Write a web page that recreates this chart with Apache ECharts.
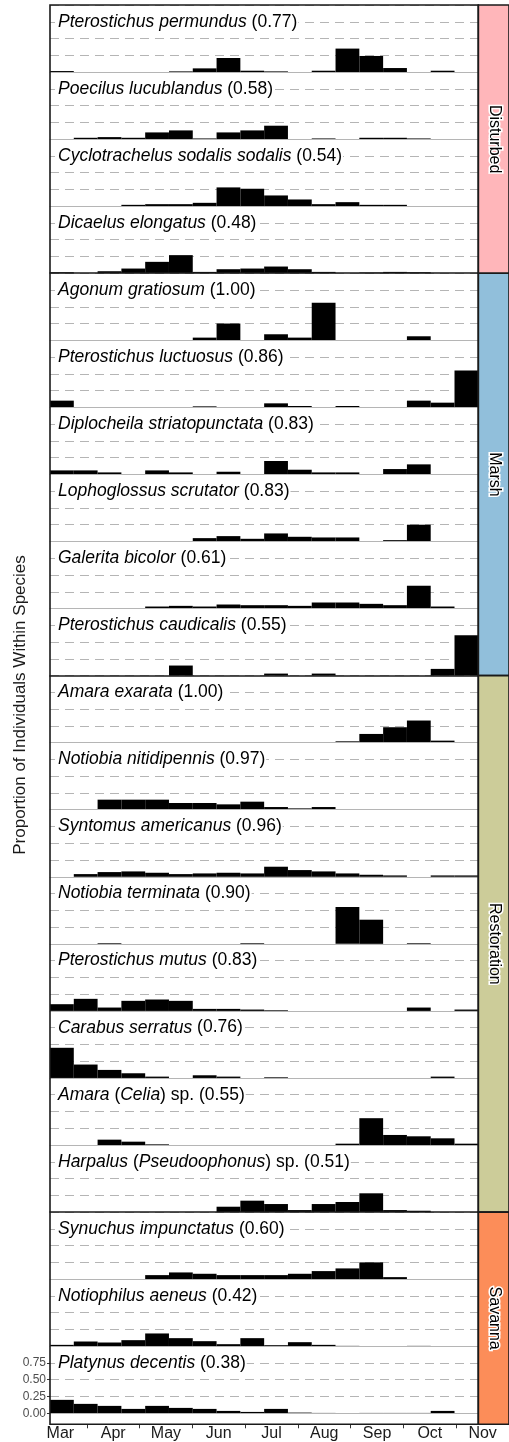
<!DOCTYPE html>
<html>
<head>
<meta charset="utf-8">
<script src="https://cdn.jsdelivr.net/npm/echarts@6/dist/echarts.min.js"></script>
<style>
  html, body { margin: 0; padding: 0; background: #fff; }
  #chart { width: 509px; height: 1442px; }
</style>
</head>
<body>
<div id="chart"></div>
<script>
// Month labels along the bottom and the 18 half-month sampling bins
const months = ['Mar', 'Apr', 'May', 'Jun', 'Jul', 'Aug', 'Sep', 'Oct', 'Nov'];
const bins = ['Mar a', 'Mar b', 'Apr a', 'Apr b', 'May a', 'May b', 'Jun a', 'Jun b', 'Jul a',
              'Jul b', 'Aug a', 'Aug b', 'Sep a', 'Sep b', 'Oct a', 'Oct b', 'Nov a', 'Nov b'];
const yTickValues = [0, 0.25, 0.5, 0.75];

// Habitat groups (strip labels) and how many species fall in each
const habitats = ['Disturbed', 'Marsh', 'Restoration', 'Savanna'];
const habitatCounts = [4, 6, 8, 3];

// Species names (rich markup: {i|...} is italic) and indicator values
const speciesNames = [
  '{i|Pterostichus permundus}', '{i|Poecilus lucublandus}', '{i|Cyclotrachelus sodalis sodalis}', '{i|Dicaelus elongatus}',
  '{i|Agonum gratiosum}', '{i|Pterostichus luctuosus}', '{i|Diplocheila striatopunctata}', '{i|Lophoglossus scrutator}',
  '{i|Galerita bicolor}', '{i|Pterostichus caudicalis}',
  '{i|Amara exarata}', '{i|Notiobia nitidipennis}', '{i|Syntomus americanus}', '{i|Notiobia terminata}',
  '{i|Pterostichus mutus}', '{i|Carabus serratus}', '{i|Amara} ({i|Celia}) sp.', '{i|Harpalus} ({i|Pseudoophonus}) sp.',
  '{i|Synuchus impunctatus}', '{i|Notiophilus aeneus}', '{i|Platynus decentis}'
];
const indicatorValues = ['0.77', '0.58', '0.54', '0.48', '1.00', '0.86', '0.83', '0.83', '0.61', '0.55',
                         '1.00', '0.97', '0.96', '0.90', '0.83', '0.76', '0.55', '0.51', '0.60', '0.42', '0.38'];

// Proportion of each species' individuals caught in each half-month bin
const permundus       = [0.015, 0, 0, 0, 0, 0.01, 0.055, 0.21, 0.02, 0.01, 0, 0.02, 0.35, 0.24, 0.06, 0, 0.02, 0];
const lucublandus     = [0, 0.02, 0.03, 0.02, 0.1, 0.13, 0.01, 0.1, 0.13, 0.2, 0, 0.01, 0, 0.02, 0.02, 0.01, 0, 0];
const sodalis         = [0, 0, 0, 0.02, 0.03, 0.03, 0.05, 0.28, 0.26, 0.16, 0.1, 0.03, 0.06, 0.02, 0.02, 0, 0, 0];
const elongatus       = [0.015, 0, 0.03, 0.07, 0.17, 0.27, 0.02, 0.06, 0.07, 0.1, 0.06, 0.02, 0, 0.01, 0.02, 0.015, 0, 0];
const gratiosum       = [0, 0, 0, 0, 0, 0, 0.04, 0.25, 0, 0.09, 0.04, 0.56, 0, 0, 0, 0.06, 0, 0];
const luctuosus       = [0.1, 0, 0, 0, 0, 0, 0.015, 0, 0, 0.06, 0.02, 0, 0.02, 0, 0, 0.1, 0.07, 0.55];
const striatopunctata = [0.06, 0.06, 0.03, 0, 0.06, 0.03, 0, 0.04, 0, 0.2, 0.07, 0.03, 0.03, 0, 0.08, 0.15, 0, 0];
const scrutator       = [0, 0, 0, 0, 0, 0, 0.05, 0.08, 0.04, 0.12, 0.07, 0.06, 0.06, 0, 0.02, 0.25, 0, 0];
const bicolor         = [0, 0, 0, 0, 0.03, 0.04, 0.03, 0.06, 0.05, 0.05, 0.04, 0.09, 0.09, 0.07, 0.05, 0.34, 0.03, 0];
const caudicalis      = [0, 0, 0, 0, 0, 0.15, 0, 0, 0, 0.03, 0, 0.03, 0, 0, 0, 0, 0.1, 0.6];
const exarata         = [0, 0, 0, 0, 0, 0, 0, 0, 0, 0, 0, 0, 0.02, 0.13, 0.23, 0.33, 0.03, 0];
const nitidipennis    = [0, 0, 0.15, 0.15, 0.15, 0.1, 0.1, 0.08, 0.12, 0.04, 0.02, 0.04, 0, 0, 0, 0, 0, 0];
const americanus      = [0, 0.04, 0.07, 0.08, 0.06, 0.04, 0.05, 0.06, 0.05, 0.15, 0.1, 0.08, 0.05, 0.03, 0.02, 0, 0.02, 0.02];
const terminata       = [0, 0, 0.01, 0, 0, 0, 0, 0, 0.01, 0, 0, 0, 0.55, 0.36, 0, 0.01, 0, 0];
const mutus           = [0.1, 0.18, 0.05, 0.15, 0.17, 0.15, 0.03, 0.03, 0.02, 0.01, 0, 0, 0, 0, 0, 0.05, 0, 0.02];
const serratus        = [0.45, 0.2, 0.12, 0.07, 0.02, 0, 0.04, 0.02, 0, 0.01, 0, 0, 0, 0, 0, 0, 0.02, 0];
const celia           = [0, 0, 0.08, 0.05, 0.01, 0, 0, 0, 0, 0, 0, 0, 0.02, 0.4, 0.15, 0.13, 0.1, 0.02];
const pseudoophonus   = [0, 0, 0, 0, 0, 0, 0, 0.08, 0.17, 0.12, 0.03, 0.12, 0.15, 0.28, 0.03, 0.02, 0, 0];
const impunctatus     = [0, 0, 0, 0, 0.06, 0.1, 0.08, 0.06, 0.06, 0.06, 0.08, 0.12, 0.16, 0.25, 0.03, 0, 0, 0];
const aeneus          = [0.02, 0.07, 0.055, 0.09, 0.19, 0.12, 0.075, 0.03, 0.12, 0.015, 0.06, 0.02, 0.005, 0, 0, 0.005, 0, 0];
const decentis        = [0.2, 0.14, 0.11, 0.065, 0.11, 0.08, 0.065, 0.035, 0.02, 0.065, 0.01, 0.005, 0, 0.005, 0.005, 0.005, 0.035, 0];

const speciesData = [permundus, lucublandus, sodalis, elongatus,
  gratiosum, luctuosus, striatopunctata, scrutator, bicolor, caudicalis,
  exarata, nitidipennis, americanus, terminata, mutus, serratus, celia, pseudoophonus,
  impunctatus, aeneus, decentis];

// ---- layout & style ----
const FONT = 'Liberation Sans, Arial, Helvetica, sans-serif';
const LABEL_SIZE = 17.5;
const PLOT_L = 50, PLOT_R = 478.3, PLOT_T = 5, PANEL_H = 67.06, FRAME_B = 1424.3;
const STRIP_R = 510;
const habitatColors = ['#FFB6BA', '#91BFDB', '#CCCC99', '#FC8D59'];
const GRID_GRAY = '#b5b5b5';

const grids = [], xAxes = [], yAxes = [], series = [], graphics = [];
const nPanels = speciesData.length;

// index of the last panel in each habitat group
const groupEnds = [];
habitatCounts.reduce((acc, n) => { groupEnds.push(acc + n - 1); return acc + n; }, 0);

speciesData.forEach((vals, i) => {
  const top = PLOT_T + i * PANEL_H;
  const isLast = i === nPanels - 1;
  const groupEnd = groupEnds.includes(i) && !isLast;
  grids.push({ left: PLOT_L, top: top, width: PLOT_R - PLOT_L, height: PANEL_H });
  xAxes.push({
    type: 'category', gridIndex: i, data: bins, boundaryGap: true, z: 4,
    axisLine: { show: true, lineStyle: groupEnd ? { color: '#1a1a1a', width: 1.6 } : { color: GRID_GRAY, width: 1 } },
    axisTick: { show: false }, axisLabel: { show: false }, splitLine: { show: false }
  });
  yAxes.push({
    type: 'value', gridIndex: i, min: 0, max: 1, interval: 0.25,
    axisLine: { show: false },
    axisTick: isLast ? { show: true, customValues: yTickValues, length: 3, lineStyle: { color: '#333' } } : { show: false },
    axisLabel: isLast ? {
      show: true, customValues: yTickValues, fontSize: 12, fontFamily: FONT, color: '#4d4d4d', margin: 4,
      formatter: v => v.toFixed(2)
    } : { show: false },
    splitLine: { show: true, lineStyle: { color: GRID_GRAY, width: 1, type: [9, 6] } }
  });
  series.push({
    type: 'bar', xAxisIndex: i, yAxisIndex: i, data: vals, barCategoryGap: '0%',
    itemStyle: { color: '#000' }, silent: true, z: 3
  });
  graphics.push({
    type: 'text', x: 55, y: top + PANEL_H * 0.25, z: 20,
    style: {
      text: speciesNames[i] + ' (' + indicatorValues[i] + ')',
      fontSize: LABEL_SIZE, fontFamily: FONT, fill: '#000',
      verticalAlign: 'middle', align: 'left',
      backgroundColor: '#fff', padding: [1, 1, 1, 3],
      rich: { i: { fontSize: LABEL_SIZE, fontFamily: FONT, fontStyle: 'italic', fill: '#000' } }
    }
  });
});

// outer frame drawn over the stacked panels
const frameIdx = grids.length;
grids.push({ left: PLOT_L, top: PLOT_T, width: PLOT_R - PLOT_L, height: FRAME_B - PLOT_T,
  show: true, borderColor: '#1a1a1a', borderWidth: 1.6, backgroundColor: 'transparent', z: 10 });
xAxes.push({ type: 'value', gridIndex: frameIdx, show: false });
yAxes.push({ type: 'value', gridIndex: frameIdx, show: false });

// habitat strips on the right
let start = 0;
habitats.forEach((h, g) => {
  const top = PLOT_T + start * PANEL_H;
  const end = start + habitatCounts[g];
  const bottom = g === habitats.length - 1 ? FRAME_B : PLOT_T + end * PANEL_H;
  const idx = grids.length;
  grids.push({ left: PLOT_R, top: top, width: STRIP_R - PLOT_R, height: bottom - top,
    show: true, backgroundColor: habitatColors[g], borderColor: '#1a1a1a', borderWidth: 1.6, z: 9 });
  xAxes.push({ type: 'value', gridIndex: idx, show: false });
  yAxes.push({ type: 'value', gridIndex: idx, show: false });
  graphics.push({
    type: 'text', x: 494, y: (top + bottom) / 2, rotation: -Math.PI / 2, z: 20,
    style: { text: h, fontSize: 16, fontFamily: FONT, fill: '#000', stroke: '#fff', lineWidth: 3,
             align: 'center', verticalAlign: 'middle' }
  });
  start = end;
});

// month axis under the frame
const monthIdx = grids.length;
grids.push({ left: 34, width: 480, top: FRAME_B - 1, height: 1 });
xAxes.push({
  type: 'category', gridIndex: monthIdx, data: months, position: 'bottom',
  axisLine: { show: false },
  axisTick: { show: true, length: 4, interval: (idx) => idx > 0, lineStyle: { color: '#333', width: 1 } },
  axisLabel: { interval: 0, fontSize: 16, fontFamily: FONT, color: '#1a1a1a', margin: 1 },
  splitLine: { show: false }
});
yAxes.push({ type: 'value', gridIndex: monthIdx, show: false });

// y axis title
graphics.push({
  type: 'text', x: 20, y: 705, rotation: Math.PI / 2, z: 20,
  style: { text: 'Proportion of Individuals Within Species', fontSize: 17, fontFamily: FONT, fill: '#1a1a1a',
           align: 'center', verticalAlign: 'middle' }
});

const chart = echarts.init(document.getElementById('chart'), null, { renderer: 'canvas' });
chart.setOption({
  animation: false,
  backgroundColor: '#fff',
  grid: grids,
  xAxis: xAxes,
  yAxis: yAxes,
  series: series,
  graphic: graphics
});
</script>
</body>
</html>
